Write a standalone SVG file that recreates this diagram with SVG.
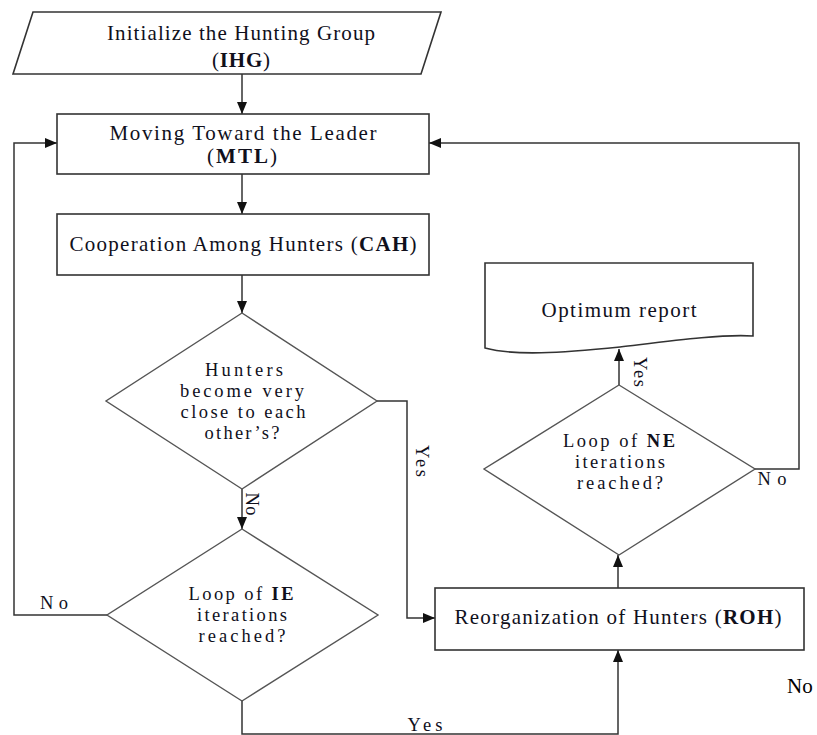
<svg xmlns="http://www.w3.org/2000/svg" width="817" height="735" viewBox="0 0 817 735">
  <defs>
    <marker id="arrow" markerUnits="userSpaceOnUse" markerWidth="12" markerHeight="10" refX="12" refY="5" orient="auto">
      <path d="M0,0 L12,5 L0,10 Z" fill="#111"/>
    </marker>
  </defs>
  <style>
    .shape { fill: #fff; stroke: #333; stroke-width: 1.6; }
    .dia { fill: #fff; stroke: #555; stroke-width: 1.4; }
    .wire { fill: none; stroke: #333; stroke-width: 1.5; }
    .t { font-family: "Liberation Serif", "Times New Roman", serif; font-size: 21px; fill: #10101c; text-anchor: middle; }
    .d { font-size: 18.5px; }
    .lbl { font-family: "Liberation Serif", "Times New Roman", serif; font-size: 18.5px; fill: #10101c; text-anchor: middle; }
    .b { font-weight: bold; }
  </style>
  <rect width="817" height="735" fill="#fff"/>

  <!-- connectors -->
  <g id="connectors">
    <line class="wire" x1="242" y1="74" x2="242" y2="114" marker-end="url(#arrow)"/>
    <line class="wire" x1="242" y1="174" x2="242" y2="214" marker-end="url(#arrow)"/>
    <line class="wire" x1="242" y1="275" x2="242" y2="313" marker-end="url(#arrow)"/>
    <line class="wire" x1="242" y1="489" x2="242" y2="529" marker-end="url(#arrow)"/>
    <polyline class="wire" points="377,401 407,401 407,618 435,618" marker-end="url(#arrow)"/>
    <polyline class="wire" points="107,615 14,615 14,143 57,143" marker-end="url(#arrow)"/>
    <polyline class="wire" points="242,701 242,734 618,734 618,650" marker-end="url(#arrow)"/>
    <line class="wire" x1="618" y1="588" x2="618" y2="555" marker-end="url(#arrow)"/>
    <line class="wire" x1="619" y1="385" x2="619" y2="349" marker-end="url(#arrow)"/>
    <polyline class="wire" points="755,469 799,469 799,143 429,143" marker-end="url(#arrow)"/>
    <!-- connector labels -->
    <text class="lbl" transform="translate(416,461) rotate(90)" textLength="32">Yes</text>
    <text class="lbl" transform="translate(246,504) rotate(90)" textLength="23">No</text>
    <text class="lbl" transform="translate(634,372) rotate(90)" textLength="30">Yes</text>
    <text class="lbl" x="54" y="609" textLength="28">No</text>
    <text class="lbl" x="772" y="485" textLength="29">No</text>
    <text class="lbl" x="425" y="731" textLength="35">Yes</text>
  </g>

  <g id="ihg">
    <polygon class="shape" points="33,12 441,12 421,74 13,74"/>
    <text class="t" x="241" y="40" textLength="268">Initialize the Hunting Group</text>
    <text class="t" x="241" y="67" textLength="58">(<tspan class="b">IHG</tspan>)</text>
  </g>

  <g id="mtl">
    <rect class="shape" x="57" y="114" width="372" height="60"/>
    <text class="t" x="243" y="140" textLength="267">Moving Toward the Leader</text>
    <text class="t" x="242" y="163" textLength="70">(<tspan class="b">MTL</tspan>)</text>
  </g>

  <g id="cah">
    <rect class="shape" x="57" y="214" width="372" height="61"/>
    <text class="t" x="243" y="251" textLength="347">Cooperation Among Hunters (<tspan class="b">CAH</tspan>)</text>
  </g>

  <g id="close-check">
    <polygon class="dia" points="242,313 377,401 242,489 106,401"/>
    <text class="t d" x="244" y="376" textLength="78">Hunters</text>
    <text class="t d" x="242" y="397" textLength="124">become very</text>
    <text class="t d" x="243" y="418" textLength="125">close to each</text>
    <text class="t d" x="242" y="439" textLength="75">other’s?</text>
  </g>

  <g id="ie-check">
    <polygon class="dia" points="242,529 378,615 242,701 107,615"/>
    <text class="t d" x="241" y="600" textLength="105">Loop of <tspan class="b">IE</tspan></text>
    <text class="t d" x="242" y="621" textLength="90">iterations</text>
    <text class="t d" x="242" y="642" textLength="87">reached?</text>
  </g>

  <g id="roh">
    <rect class="shape" x="435" y="588" width="369" height="62"/>
    <text class="t" x="618" y="624" textLength="327">Reorganization of Hunters (<tspan class="b">ROH</tspan>)</text>
  </g>

  <g id="ne-check">
    <polygon class="dia" points="619,385 755,469 619,555 484,469"/>
    <text class="t d" x="619" y="447" textLength="112">Loop of <tspan class="b">NE</tspan></text>
    <text class="t d" x="620" y="468" textLength="90">iterations</text>
    <text class="t d" x="620" y="489" textLength="86">reached?</text>
  </g>

  <g id="report">
    <path class="shape" d="M485,263 H753 V336 C720,334 670,341 620,347 C560,353 515,356 485,348 Z"/>
    <text class="t" x="619" y="317" textLength="155">Optimum report</text>
  </g>

  <text x="787" y="693" font-family="Liberation Serif, Times New Roman, serif" font-size="21" fill="#000">No</text>
</svg>
